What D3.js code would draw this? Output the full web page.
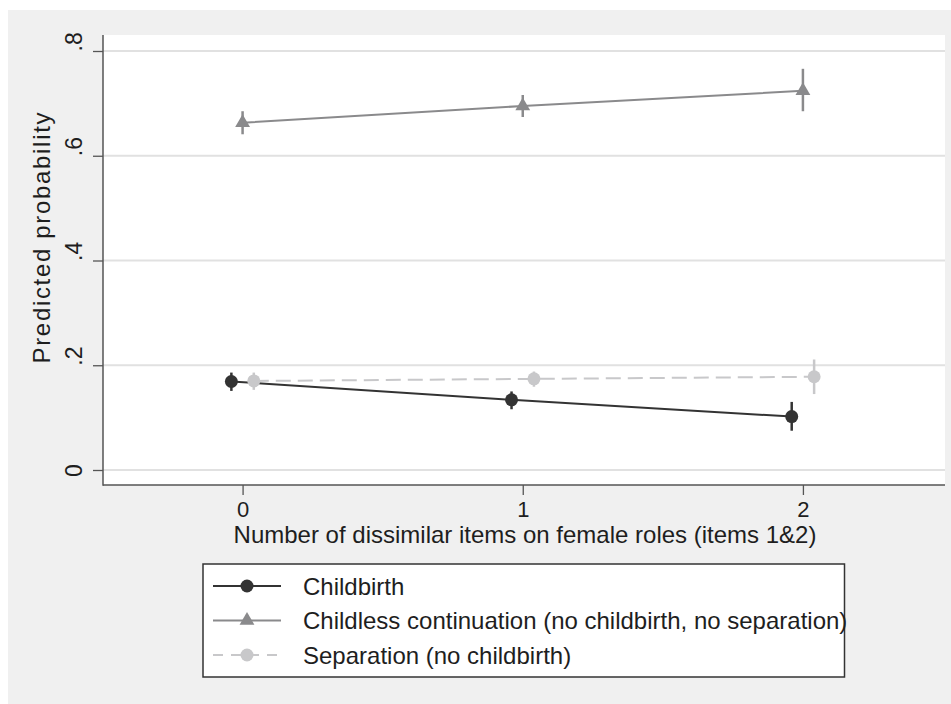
<!DOCTYPE html>
<html>
<head>
<meta charset="utf-8">
<script src="https://cdn.jsdelivr.net/npm/d3@7/dist/d3.min.js"></script>
<style>
  html, body { margin: 0; padding: 0; background: #ffffff; }
  svg { display: block; }
  text { font-family: "Liberation Sans", Arial, Helvetica, sans-serif; fill: #1e1e1e; }
</style>
</head>
<body>
<svg id="chart" width="951" height="704"></svg>
<script>
// ---------------- data ----------------
const categories = [0, 1, 2];
const yTicks = [0, 0.2, 0.4, 0.6, 0.8];
const yTickLabels = ["0", ".2", ".4", ".6", ".8"];

const childbirth   = [0.169, 0.134, 0.102];
const childbirthLo = [0.151, 0.116, 0.075];
const childbirthHi = [0.186, 0.150, 0.130];

const childless    = [0.663, 0.695, 0.724];
const childlessLo  = [0.641, 0.674, 0.685];
const childlessHi  = [0.685, 0.716, 0.766];

const separation   = [0.170, 0.174, 0.178];
const separationLo = [0.153, 0.159, 0.145];
const separationHi = [0.186, 0.188, 0.211];

const seriesNames = [
  "Childbirth",
  "Childless continuation (no childbirth, no separation)",
  "Separation (no childbirth)"
];
const xTitle = "Number of dissimilar items on female roles (items 1&2)";
const yTitle = "Predicted probability";

// ---------------- styles ----------------
const FONT = 24;
const series = [
  { name: seriesNames[0], v: childbirth, lo: childbirthLo, hi: childbirthHi,
    color: "#333333", dash: null, legDash: null, marker: "circle", offset: -0.04 },
  { name: seriesNames[1], v: childless, lo: childlessLo, hi: childlessHi,
    color: "#8a8a8c", dash: null, legDash: null, marker: "triangle", offset: 0 },
  { name: seriesNames[2], v: separation, lo: separationLo, hi: separationHi,
    color: "#c8c8ca", dash: "15,7", legDash: "10,8", marker: "circle", offset: 0.04 }
];

const svg = d3.select("#chart");
const W = 951, H = 704;
const plot = { left: 103, right: 945, top: 35, bottom: 485 };

// outer grey background
svg.append("rect").attr("x", 8).attr("y", 10).attr("width", W - 8).attr("height", H - 10)
  .attr("fill", "#f0f0f0");
// plot region
svg.append("rect").attr("x", plot.left).attr("y", plot.top)
  .attr("width", plot.right - plot.left).attr("height", plot.bottom - plot.top)
  .attr("fill", "#ffffff");

const x = d3.scaleLinear().domain([-0.5, 2.5]).range([102.5, 943]);
const y = d3.scaleLinear().domain([0, 0.8]).range([470, 51]);

// gridlines
svg.append("g").selectAll("line").data(yTicks).join("line")
  .attr("x1", plot.left).attr("x2", plot.right)
  .attr("y1", d => y(d)).attr("y2", d => y(d))
  .attr("stroke", "#e1e1e1").attr("stroke-width", 2);

// axes
const yAxis = d3.axisLeft(y).tickValues(yTicks)
  .tickFormat((d, i) => yTickLabels[i]).tickSize(10).tickPadding(0);
const gy = svg.append("g").attr("transform", `translate(${plot.left},0)`).call(yAxis);
gy.select(".domain").remove();
gy.selectAll(".tick line").attr("stroke", "#555").attr("stroke-width", 1.3);
gy.selectAll(".tick text")
  .attr("x", null).attr("dy", null)
  .attr("transform", "translate(-21,0) rotate(-90)")
  .attr("text-anchor", function() { return this.textContent.startsWith(".") ? "start" : "middle"; })
  .style("font-size", "23px")
  .style("font-family", '"Liberation Sans", Arial, sans-serif')
  .attr("fill", "#1e1e1e");

const xAxis = d3.axisBottom(x).tickValues(categories).tickFormat(d3.format("d"))
  .tickSize(10).tickPadding(0);
const gx = svg.append("g").attr("transform", `translate(0,${plot.bottom})`).call(xAxis);
gx.select(".domain").remove();
gx.selectAll(".tick line").attr("stroke", "#555").attr("stroke-width", 1.3);
gx.selectAll(".tick text")
  .attr("y", 31.5).attr("dy", null)
  .style("font-size", "22px")
  .style("font-family", '"Liberation Sans", Arial, sans-serif')
  .attr("fill", "#1e1e1e");

// axis lines
svg.append("line").attr("x1", plot.left).attr("x2", plot.left)
  .attr("y1", plot.top).attr("y2", plot.bottom + 0.7)
  .attr("stroke", "#555").attr("stroke-width", 1.5);
svg.append("line").attr("x1", plot.left).attr("x2", plot.right)
  .attr("y1", plot.bottom).attr("y2", plot.bottom)
  .attr("stroke", "#555").attr("stroke-width", 1.5);

// titles
svg.append("text").attr("x", 525).attr("y", 543).attr("text-anchor", "middle")
  .style("font-size", FONT + "px").text(xTitle);
svg.append("text").attr("transform", "translate(50,238) rotate(-90)")
  .attr("text-anchor", "middle").style("font-size", FONT + "px")
  .attr("textLength", 251).attr("lengthAdjust", "spacing").text(yTitle);

// series
const triangle = d3.symbol().type(d3.symbolTriangle).size(95);
const line = d3.line().x(d => x(d[0])).y(d => y(d[1]));

series.forEach(s => {
  const pts = categories.map((c, i) => [c + s.offset, s.v[i], s.lo[i], s.hi[i]]);
  const g = svg.append("g");
  g.append("path").attr("d", line(pts)).attr("fill", "none")
    .attr("stroke", s.color).attr("stroke-width", 2)
    .attr("stroke-dasharray", s.dash);
  g.selectAll("line.ci").data(pts).join("line").attr("class", "ci")
    .attr("x1", d => x(d[0])).attr("x2", d => x(d[0]))
    .attr("y1", d => y(d[2])).attr("y2", d => y(d[3]))
    .attr("stroke", s.color).attr("stroke-width", 2.5);
  if (s.marker === "circle") {
    g.selectAll("circle").data(pts).join("circle")
      .attr("cx", d => x(d[0])).attr("cy", d => y(d[1])).attr("r", 6.5)
      .attr("fill", s.color);
  } else {
    g.selectAll("path.m").data(pts).join("path").attr("class", "m")
      .attr("transform", d => `translate(${x(d[0])},${y(d[1])})`)
      .attr("d", triangle).attr("fill", s.color);
  }
});

// legend
const leg = svg.append("g");
leg.append("rect").attr("x", 203).attr("y", 564).attr("width", 641.5).attr("height", 113)
  .attr("fill", "#ffffff").attr("stroke", "#333").attr("stroke-width", 1.5);
const rowY = [586, 620.5, 655];
series.forEach((s, i) => {
  const ry = rowY[i];
  leg.append("line").attr("x1", 213).attr("x2", 281).attr("y1", ry).attr("y2", ry)
    .attr("stroke", s.color).attr("stroke-width", 2).attr("stroke-dasharray", s.legDash);
  if (s.marker === "circle") {
    leg.append("circle").attr("cx", 247).attr("cy", ry).attr("r", 6.5).attr("fill", s.color);
  } else {
    leg.append("path").attr("transform", `translate(247,${ry})`).attr("d", triangle).attr("fill", s.color);
  }
  leg.append("text").attr("x", 303).attr("y", ry + 8.5).style("font-size", FONT + "px").text(s.name);
});
</script>
</body>
</html>
